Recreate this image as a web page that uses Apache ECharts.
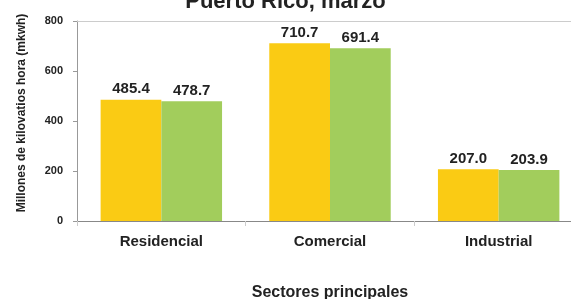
<!DOCTYPE html>
<html>
<head>
<meta charset="utf-8">
<script src="https://cdn.jsdelivr.net/npm/echarts@6/dist/echarts.min.js"></script>
<style>
  html, body { margin: 0; padding: 0; background: #fff; }
  #chart { width: 571px; height: 299px; }
</style>
</head>
<body>
<div id="chart"></div>
<script>
// datos del gráfico
var sectores = ['Residencial', 'Comercial', 'Industrial'];
var serieAmarilla = [485.4, 710.7, 207.0];
var serieVerde = [478.7, 691.4, 203.9];
var ticksY = [0, 200, 400, 600, 800];

var fuente = '"Liberation Sans", Arial, sans-serif';

var myChart = echarts.init(document.getElementById('chart'));
var option = {
  animation: false,
  title: {
    text: 'Puerto Rico, marzo',
    left: 'center',
    top: -14,
    textStyle: { fontFamily: fuente, fontSize: 22, fontWeight: 'bold', color: '#222' }
  },
  grid: { left: 77, right: -12, top: 21, bottom: 78, containLabel: false, outerBoundsMode: 'none' },
  xAxis: [{
    type: 'category',
    data: sectores,
    name: 'Sectores principales',
    nameLocation: 'middle',
    nameGap: 64,
    nameTextStyle: { fontFamily: fuente, fontSize: 16, fontWeight: 'bold', color: '#222' },
    axisLine: { lineStyle: { color: '#888' } },
    axisTick: { show: true, lineStyle: { color: '#ccc' }, length: 5 },
    axisLabel: { fontFamily: fuente, fontSize: 15, fontWeight: 'bold', color: '#222', margin: 13 }
  }, {
    // linea superior del area
    type: 'category',
    data: sectores,
    position: 'top',
    axisLine: { lineStyle: { color: '#ccc' } },
    axisTick: { show: false },
    axisLabel: { show: false }
  }],
  yAxis: {
    type: 'value',
    min: ticksY[0],
    max: ticksY[ticksY.length - 1],
    interval: 200,
    name: 'Millones de kilovatios hora (mkwh)',
    nameLocation: 'middle',
    nameGap: 49,
    nameRotate: 90,
    nameTextStyle: { fontFamily: fuente, fontSize: 12, fontWeight: 'bold', color: '#222', padding: [0, 0, 0, 16] },
    axisLine: { show: true, lineStyle: { color: '#999' } },
    axisTick: { show: true, length: 4, lineStyle: { color: '#999' } },
    splitLine: { show: false },
    axisLabel: { fontFamily: fuente, fontSize: 11, fontWeight: 'bold', color: '#222', margin: 14 }
  },
  series: [{
    type: 'bar',
    data: serieAmarilla,
    barGap: '0%',
    barCategoryGap: '28%',
    itemStyle: { color: '#FACB14' },
    label: {
      show: true, position: 'top', distance: 3,
      formatter: function (p) { return p.value.toFixed(1); },
      fontFamily: fuente, fontSize: 15, fontWeight: 'bold', color: '#222'
    }
  }, {
    type: 'bar',
    data: serieVerde,
    itemStyle: { color: '#A2CD5C' },
    label: {
      show: true, position: 'top', distance: 3,
      formatter: function (p) { return p.value.toFixed(1); },
      fontFamily: fuente, fontSize: 15, fontWeight: 'bold', color: '#222'
    }
  }]
};
myChart.setOption(option);
</script>
</body>
</html>
